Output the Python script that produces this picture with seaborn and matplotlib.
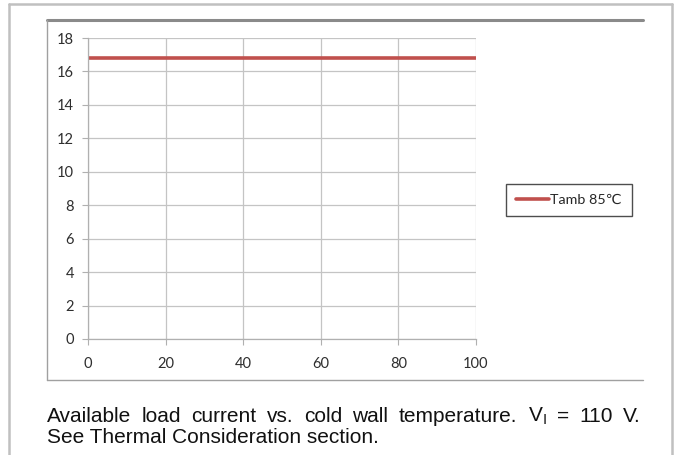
import numpy as np
import pandas as pd
import matplotlib
matplotlib.use("Agg")
import matplotlib.pyplot as plt
import seaborn as sns
from matplotlib.lines import Line2D

# data
temps = [0, 20, 40, 60, 80, 100]
current = [16.8, 16.8, 16.8, 16.8, 16.8, 16.8]
series_name = "Tamb 85\u2103"
y_ticks = [0, 2, 4, 6, 8, 10, 12, 14, 16, 18]
x_ticks = [0, 20, 40, 60, 80, 100]
caption_1 = ["Available", "load", "current", "vs.", "cold", "wall", "temperature.",
             "V$_{\\mathregular{I}}$", "=", "110", "V."]
caption_2 = "See Thermal Consideration section."

data = pd.DataFrame({"temp": temps, "current": current, "series": series_name})

sns.set_theme(style="white")
plt.rcParams["font.family"] = ["Lato", "DejaVu Sans"]

W, H = 679, 455
fig = plt.figure(figsize=(W / 100, H / 100), dpi=100)


def fx(px):
    return px / W


def fy(py):
    return 1 - py / H


# outer grey page box
for xs, ys in [([9, 9], [4, H]), ([9, 672], [4, 4]), ([672, 672], [4, H])]:
    fig.add_artist(Line2D([fx(v) for v in xs], [fy(v) for v in ys],
                          color="#c0c0c0", lw=1.8))
# inner chart frame (Excel style)
fig.add_artist(Line2D([fx(47), fx(643)], [fy(20), fy(20)], color="#8a8a8a", lw=2.2))
fig.add_artist(Line2D([fx(47), fx(47)], [fy(20), fy(380)], color="#a0a0a0", lw=1.0))
fig.add_artist(Line2D([fx(47), fx(643)], [fy(380), fy(380)], color="#a0a0a0", lw=1.0))

ax = fig.add_axes([fx(88), fy(339), fx(476) - fx(88), (339 - 38) / H])
sns.lineplot(data=data, x="temp", y="current", hue="series",
             palette=["#c0504d"], linewidth=2.6, ax=ax)

ax.set_xlim(0, 100)
ax.set_ylim(0, 18)
ax.set_xticks(x_ticks)
ax.set_yticks(y_ticks)
ax.grid(True, color="#c4c4c4", linewidth=0.9)
ax.set_axisbelow(True)
for side in ["top", "right"]:
    ax.spines[side].set_visible(False)
for side in ["left", "bottom"]:
    ax.spines[side].set_color("#b0b0b0")
    ax.spines[side].set_linewidth(0.9)
ax.tick_params(axis="both", which="both", length=4, width=0.8, color="#b0b0b0",
               labelsize=10.5, labelcolor="#2e2e2e", left=True, bottom=True)
ax.tick_params(axis="y", pad=6)
ax.tick_params(axis="x", pad=9)
ax.set_xlabel("")
ax.set_ylabel("")

handles, labels = ax.get_legend_handles_labels()
ax.legend(handles, labels, loc="center left",
          bbox_to_anchor=(fx(506), fy(200)), bbox_transform=fig.transFigure,
          frameon=True, fancybox=False, edgecolor="#222222", fontsize=10.3,
          handlelength=2.3, handletextpad=0.1, borderpad=0.7,
          borderaxespad=0)
ax.get_legend().get_frame().set_linewidth(1.0)

# caption, first line justified between x=47 and x=641
cap_font = ["Liberation Sans", "DejaVu Sans"]
cap_size = 15
renderer = fig.canvas.get_renderer()
words = [fig.text(0, fy(416), w, fontsize=cap_size, family=cap_font,
                  color="#111111", va="center", ha="left") for w in caption_1]
widths = [t.get_window_extent(renderer).width for t in words]
gap = (641 - 47 - sum(widths)) / (len(words) - 1)
x = 47
for t, w in zip(words, widths):
    t.set_x(fx(x))
    x += w + gap
fig.text(fx(47), fy(437.5), caption_2, fontsize=cap_size, family=cap_font,
         color="#111111", va="center", ha="left")

fig.savefig("out.png", dpi=100)
